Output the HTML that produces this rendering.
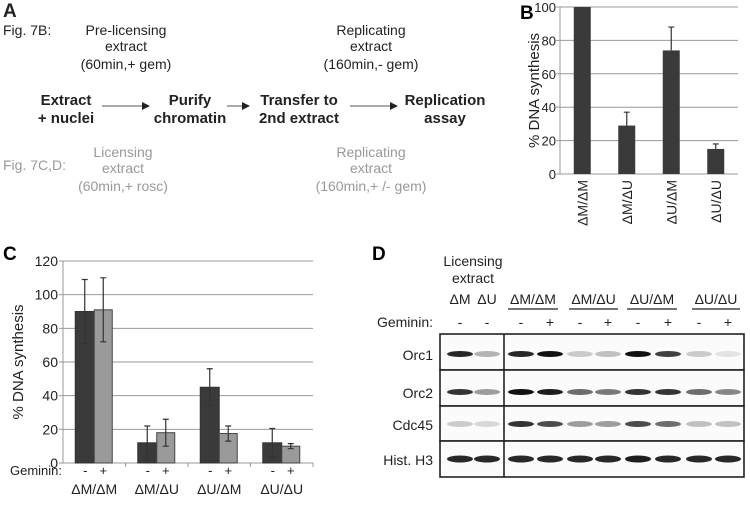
<!DOCTYPE html>
<html><head><meta charset="utf-8"><style>
body{margin:0;background:#fff}
svg{display:block;font-family:"Liberation Sans",Arial,sans-serif}
</style></head><body>
<svg id="fig" width="750" height="506" viewBox="0 0 750 506" xmlns="http://www.w3.org/2000/svg">
<defs><marker id="ah" markerWidth="8" markerHeight="8" refX="7" refY="4" orient="auto"><path d="M0,0 L8,4 L0,8 z" fill="#222"/></marker></defs>
<g id="panelA" font-size="14" fill="#222" text-anchor="middle">
 <text x="3" y="17" font-size="19" font-weight="bold" text-anchor="start">A</text>
 <text x="3" y="35" text-anchor="start">Fig. 7B:</text>
 <g><text x="126" y="35">Pre-licensing</text><text x="126" y="51">extract</text><text x="126" y="69">(60min,+ gem)</text></g>
 <g><text x="371" y="35">Replicating</text><text x="371" y="51">extract</text><text x="371" y="69">(160min,- gem)</text></g>
 <g font-weight="bold" font-size="15">
  <g><text x="66" y="105">Extract</text><text x="66" y="123">+ nuclei</text></g>
  <g><text x="190" y="105">Purify</text><text x="190" y="123">chromatin</text></g>
  <g><text x="299" y="105">Transfer to</text><text x="299" y="123">2nd extract</text></g>
  <g><text x="445" y="105">Replication</text><text x="445" y="123">assay</text></g>
 </g>
 <line x1="102" y1="106" x2="149" y2="106" stroke="#555" stroke-width="1" marker-end="url(#ah)"/>
 <line x1="227" y1="106" x2="249" y2="106" stroke="#555" stroke-width="1" marker-end="url(#ah)"/>
 <line x1="350" y1="106" x2="397" y2="106" stroke="#555" stroke-width="1" marker-end="url(#ah)"/>
 <g fill="#999">
  <text x="3" y="170" text-anchor="start">Fig. 7C,D:</text>
  <g><text x="123" y="157">Licensing</text><text x="123" y="173">extract</text><text x="123" y="191">(60min,+ rosc)</text></g>
  <g><text x="371" y="157">Replicating</text><text x="371" y="173">extract</text><text x="371" y="191">(160min,+ /- gem)</text></g>
 </g>
</g>
<g id="panelB"></g>
<g id="panelC"></g>
<g id="panelD"></g>
</svg>
<script>
const bCats=["ΔM/ΔM","ΔM/ΔU","ΔU/ΔM","ΔU/ΔU"];
const bVals=[100,29,74,15];
const bErr=[0,8,14,3];
const bTicks=[0,20,40,60,80,100];
const cCats=["ΔM/ΔM","ΔM/ΔU","ΔU/ΔM","ΔU/ΔU"];
const cMinus=[90,12,45,12];
const cPlus=[91,18,17.5,10];
const cMinusErr=[19,10,11,8.5];
const cPlusErr=[19,8,4.5,1.5];
const cTicks=[0,20,40,60,80,100,120];
const NS="http://www.w3.org/2000/svg";
function mk(p,t,a,txt){const e=document.createElementNS(NS,t);for(const k in a)e.setAttribute(k,a[k]);if(txt!==undefined)e.textContent=txt;p.appendChild(e);return e;}
// Panel B
(function(){
 const g=document.getElementById('panelB');
 const x0=560,x1=738,y0=174,yT=7,max=100;
 const y=v=>y0-(v/max)*(y0-yT);
 const bw=(x1-x0)/bCats.length;
 let t=mk(g,'text',{x:520,y:19,'font-size':19,'font-weight':'bold'},'B');
 
 bTicks.forEach(v=>{
  if(v>0){const l=mk(g,'line',{x1:x0,x2:x1,y1:y(v),y2:y(v),stroke:'#999','stroke-width':1});
  }
  const tk=mk(g,'line',{x1:x0-4,x2:x0,y1:y(v),y2:y(v),stroke:'#999'});
  
  const tl=mk(g,'text',{x:x0-4,y:y(v)+5,'font-size':13,'text-anchor':'end',fill:'#222'},v);
  
 });
 const ax=mk(g,'line',{x1:x0,x2:x0,y1:yT,y2:y0,stroke:'#999'});
 const xa=mk(g,'line',{x1:x0,x2:x1,y1:y0,y2:y0,stroke:'#999'});
 const yt=mk(g,'text',{x:0,y:0,'font-size':15,'text-anchor':'middle',fill:'#222',transform:`translate(539,${(y0+yT)/2}) rotate(-90)`},'% DNA synthesis');
 
 bCats.forEach((c,i)=>{
  const cx=x0+bw*(i+0.5);
  const r=mk(g,'rect',{x:cx-8.5,y:y(bVals[i]),width:17,height:y0-y(bVals[i]),fill:'#3a3a3a'});
  
  if(bErr[i]>0){
   const e=mk(g,'path',{d:`M${cx},${y(bVals[i])} V${y(bVals[i]+bErr[i])} M${cx-3},${y(bVals[i]+bErr[i])} H${cx+3}`,stroke:'#333','stroke-width':1.2,fill:'none'});
   
  }
  const tl=mk(g,'text',{x:0,y:0,'font-size':14,'text-anchor':'end',fill:'#222',transform:`translate(${cx+5},${y0+6}) rotate(-90)`},c);
  
 });
})();
// Panel C
(function(){
 const g=document.getElementById('panelC');
 const x0=63,x1=313,y0=463,yT=261,max=120;
 const y=v=>y0-(v/max)*(y0-yT);
 const bw=(x1-x0)/cCats.length;
 let t=mk(g,'text',{x:3,y:260,'font-size':19,'font-weight':'bold'},'C');
 
 cTicks.forEach(v=>{
  if(v>0){const l=mk(g,'line',{x1:x0,x2:x1,y1:y(v),y2:y(v),stroke:'#999'});
  }
  const tk=mk(g,'line',{x1:x0-4,x2:x0,y1:y(v),y2:y(v),stroke:'#999'});
  
  const tl=mk(g,'text',{x:x0-5,y:y(v)+5,'font-size':14,'text-anchor':'end',fill:'#222'},v);
  
 });
 const ax=mk(g,'line',{x1:x0,x2:x0,y1:yT,y2:y0,stroke:'#999'});
 const xa=mk(g,'line',{x1:x0,x2:x1,y1:y0,y2:y0,stroke:'#999'});
 const yt=mk(g,'text',{x:0,y:0,'font-size':15,'text-anchor':'middle',fill:'#222',transform:`translate(23,${(y0+yT)/2}) rotate(-90)`},'% DNA synthesis');
 
 const gl=mk(g,'text',{x:10,y:475,'font-size':13,fill:'#222'},'Geminin:');
 
 function err(cx,v,e,name){
  const p=mk(g,'path',{d:`M${cx},${y(v-e)} V${y(v+e)} M${cx-3},${y(v+e)} H${cx+3} M${cx-3},${y(v-e)} H${cx+3}`,stroke:'#333','stroke-width':1.2,fill:'none'});
  
 }
 cCats.forEach((c,i)=>{
  const cx=x0+bw*(i+0.5);
  const tk=mk(g,'line',{x1:x0+bw*(i+1),x2:x0+bw*(i+1),y1:y0,y2:y0+4,stroke:'#999'});
  
  const r1=mk(g,'rect',{x:cx-19,y:y(cMinus[i]),width:19,height:y0-y(cMinus[i]),fill:'#3a3a3a',stroke:'#333'});
  
  const r2=mk(g,'rect',{x:cx,y:y(cPlus[i]),width:18,height:y0-y(cPlus[i]),fill:'#9a9a9a',stroke:'#444'});
  
  err(cx-9.5,cMinus[i],cMinusErr[i],'c-error-minus-'+i);
  err(cx+9,cPlus[i],cPlusErr[i],'c-error-plus-'+i);
  const m=mk(g,'text',{x:cx-9,y:475,'font-size':13,'text-anchor':'middle',fill:'#222'},'-');
  
  const p=mk(g,'text',{x:cx+9,y:475,'font-size':13,'text-anchor':'middle',fill:'#222'},'+');
  
  const cl=mk(g,'text',{x:cx,y:494,'font-size':14,'text-anchor':'middle',fill:'#222'},c);
  
 });
})();
// Panel D
(function(){
 const g=document.getElementById('panelD');
 const lanes=[460,487,521,550,580,608,638,668,699,728];
 const gem=['-','-','-','+','-','+','-','+','-','+'];
 const rows=[["Orc1",334,370,355],["Orc2",370,406,393],["Cdc45",406,441,425],["Hist. H3",441,477,460]];
 const groups=[["ΔM/ΔM",508,558],["ΔM/ΔU",569,618],["ΔU/ΔM",627,677],["ΔU/ΔU",692,740]];
 const intensity=[[0.9,0.3,0.9,1,0.2,0.25,1,0.8,0.2,0.1],[0.85,0.4,1,0.95,0.6,0.55,0.85,0.85,0.6,0.5],[0.2,0.15,0.85,0.75,0.4,0.4,0.75,0.6,0.25,0.25],[0.9,0.9,0.9,0.9,0.9,0.9,0.95,0.9,0.9,0.9]];
 let t=mk(g,'text',{x:372,y:260,'font-size':19,'font-weight':'bold'},'D');
 
 const h=mk(g,'g',{'font-size':14,fill:'#222','text-anchor':'middle'});
 
 mk(h,'text',{x:473,y:266},'Licensing');mk(h,'text',{x:473,y:283},'extract');
 mk(h,'text',{x:460,y:304},'ΔM');mk(h,'text',{x:487,y:304},'ΔU');
 groups.forEach(gr=>{
  const tx=mk(g,'text',{x:(gr[1]+gr[2])/2,y:304,'font-size':14,'text-anchor':'middle',fill:'#222'},gr[0]);
  
  const u=mk(g,'line',{x1:gr[1],x2:gr[2],y1:309,y2:309,stroke:'#222','stroke-width':1.3});
  
 });
 const gl=mk(g,'text',{x:433,y:327,'font-size':14,'text-anchor':'end',fill:'#222'},'Geminin:');
 
 lanes.forEach((lx,i)=>{
  const s=mk(g,'text',{x:lx,y:327,'font-size':14,'text-anchor':'middle',fill:'#222'},gem[i]);
  
 });
 rows.forEach((r,ri)=>{
  const rb=mk(g,'rect',{x:440,y:r[1],width:304,height:r[2]-r[1],fill:'#fbfbfb',stroke:'#222','stroke-width':1.6});
  
  const lb=mk(g,'text',{x:433,y:r[3]+5,'font-size':14,'text-anchor':'end',fill:'#222'},r[0]);
  
  lanes.forEach((lx,i)=>{
   const a=intensity[ri][i];
   const b=mk(g,'ellipse',{cx:lx,cy:r[3]-1,rx:13,ry:ri==3?3.5:3,fill:'#111','fill-opacity':a});
   
  });
 });
 const dv=mk(g,'line',{x1:504,x2:504,y1:334,y2:477,stroke:'#222','stroke-width':1.6});
 
})();
</script>
</body></html>
